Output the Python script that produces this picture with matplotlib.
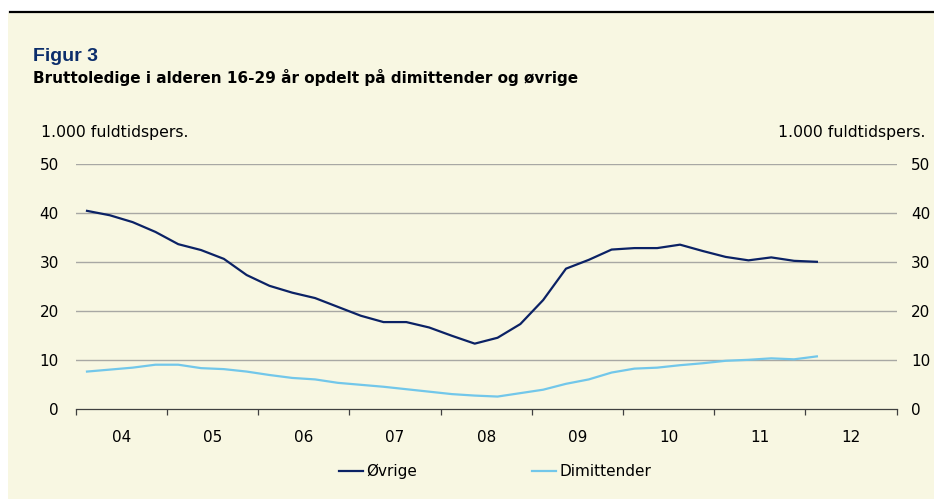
import matplotlib
matplotlib.use("Agg")
import matplotlib.pyplot as plt
from matplotlib.patches import Rectangle
from matplotlib.lines import Line2D
import numpy as np

plt.rcParams['font.family'] = ['DejaVu Sans']

years = ["04", "05", "06", "07", "08", "09", "10", "11", "12"]
# Quarterly data, 2004Q1 - 2012Q1 (1.000 fuldtidspersoner)
ovrige = [40.5, 39.6, 38.2, 36.2, 33.7, 32.5, 30.7, 27.4, 25.2, 23.8, 22.7, 20.9,
          19.1, 17.8, 17.8, 16.7, 15.0, 13.4, 14.6, 17.4, 22.3, 28.7, 30.5, 32.6,
          32.9, 32.9, 33.6, 32.3, 31.1, 30.4, 31.0, 30.3, 30.1]
dimittender = [7.7, 8.1, 8.5, 9.1, 9.1, 8.4, 8.2, 7.7, 7.0, 6.4, 6.1, 5.4,
               5.0, 4.6, 4.1, 3.6, 3.1, 2.8, 2.6, 3.3, 4.0, 5.2, 6.1, 7.5,
               8.3, 8.5, 9.0, 9.4, 9.9, 10.1, 10.4, 10.2, 10.8]
yticks = [0, 10, 20, 30, 40, 50]

W, H = 934, 499
fig = plt.figure(figsize=(W / 100, H / 100), dpi=100)
fig.patch.set_facecolor("white")

beige = "#F8F7E2"
fig.add_artist(Rectangle((8 / W, 0), 1 - 8 / W, 1 - 13 / H, transform=fig.transFigure,
                         facecolor=beige, edgecolor="none", zorder=0))
fig.add_artist(Line2D([10 / W, 1], [1 - 12 / H, 1 - 12 / H], transform=fig.transFigure,
                      color="black", lw=1.6, zorder=1))

fig.text(33 / W, 1 - 61 / H, "Figur 3", color="#0B2D6B", fontsize=14, fontweight="bold",
         va="baseline", ha="left", family=["Liberation Sans", "DejaVu Sans"])
fig.text(33 / W, 1 - 83.5 / H, "Bruttoledige i alderen 16-29 år opdelt på dimittender og øvrige",
         color="black", fontsize=11, fontweight="bold", va="baseline", ha="left")
fig.text(41 / W, 1 - 133 / H, "1.000 fuldtidspers.", fontsize=11.3, va="center", ha="left")
fig.text(926 / W, 1 - 133 / H, "1.000 fuldtidspers.", fontsize=11.3, va="center", ha="right")

left, right = 75.6 / W, 896.7 / W
bottom, top = 1 - 409.3 / H, 1 - 164.3 / H
ax = fig.add_axes([left, bottom, right - left, top - bottom])
ax.set_facecolor("none")

x = np.arange(len(ovrige))
navy = "#0B2265"
light = "#72C7EA"
l1, = ax.plot(x, ovrige, color=navy, lw=1.6, label="Øvrige")
l2, = ax.plot(x, dimittender, color=light, lw=1.6, label="Dimittender")

nq = 4 * len(years)
ax.set_xlim(-0.5, nq - 0.5)
ax.set_ylim(0, 50)
ax.set_xticks(np.arange(-0.5, nq, 4))
ax.set_xticklabels([])
ax.set_xticks(np.arange(1.5, nq, 4), minor=True)
ax.set_xticklabels(years, minor=True)
ax.tick_params(axis="x", which="major", direction="out", length=4.5, width=0.9, color="#404040")
ax.tick_params(axis="x", which="minor", length=0, pad=15, labelsize=11)

ax.set_yticks(yticks)
ax.tick_params(axis="y", length=0, pad=12, labelsize=11, labelleft=True, labelright=False)
for v in yticks[1:]:
    ax.axhline(v, color="#A8A8A4", lw=1.0, zorder=0.5)

for s in ["top", "left", "right"]:
    ax.spines[s].set_visible(False)
ax.spines["bottom"].set_color("#404040")
ax.spines["bottom"].set_linewidth(0.9)

ax2 = ax.twinx()
ax2.set_ylim(0, 50)
ax2.set_yticks(yticks)
ax2.tick_params(axis="y", length=0, pad=10.5, labelsize=11)
for s in ax2.spines.values():
    s.set_visible(False)

fig.legend(handles=[l1, l2], loc="center", bbox_to_anchor=(495 / W, 1 - 471.5 / H), ncol=2,
           frameon=False, fontsize=11, handlelength=1.6, handletextpad=0.2,
           columnspacing=7.5)

fig.savefig("out.png", dpi=100, facecolor=fig.get_facecolor())
